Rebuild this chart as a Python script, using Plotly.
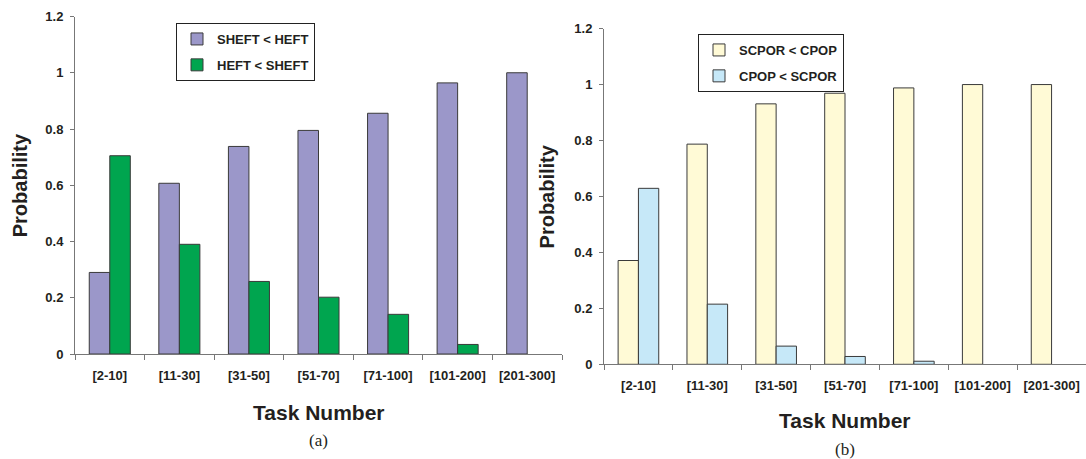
import plotly.graph_objects as go

categories = ["[2-10]", "[11-30]", "[31-50]", "[51-70]", "[71-100]", "[101-200]", "[201-300]"]
sheft_lt_heft = [0.29, 0.607, 0.738, 0.795, 0.856, 0.964, 1.0]
heft_lt_sheft = [0.705, 0.39, 0.258, 0.202, 0.141, 0.034, 0.0]
scpor_lt_cpop = [0.371, 0.787, 0.931, 0.969, 0.988, 1.0, 1.0]
cpop_lt_scpor = [0.629, 0.215, 0.065, 0.028, 0.011, 0.0, 0.0]
y_ticks = [0, 0.2, 0.4, 0.6, 0.8, 1, 1.2]
y_tick_labels = ["0", "0.2", "0.4", "0.6", "0.8", "1", "1.2"]

W, H = 1086, 459
FONT = "Liberation Sans, Arial, sans-serif"
TXT = "#231F20"
OUT = "#3a3a3a"

def px(x):
    return x / W

def py(y):
    return 1 - y / H

def edge(vals):
    return [1 if v > 0 else 0 for v in vals]

fig = go.Figure()
fig.add_trace(go.Bar(x=categories, y=sheft_lt_heft, name="SHEFT < HEFT",
                     marker=dict(color="#9B97C9", line=dict(color=OUT, width=edge(sheft_lt_heft))),
                     xaxis="x", yaxis="y", legend="legend", legendgroup="a1"))
fig.add_trace(go.Bar(x=categories, y=heft_lt_sheft, name="HEFT < SHEFT",
                     marker=dict(color="#00A54F", line=dict(color=OUT, width=edge(heft_lt_sheft))),
                     xaxis="x", yaxis="y", legend="legend", legendgroup="a2"))
fig.add_trace(go.Bar(x=categories, y=scpor_lt_cpop, name="SCPOR < CPOP",
                     marker=dict(color="#FFFAD6", line=dict(color=OUT, width=edge(scpor_lt_cpop))),
                     xaxis="x2", yaxis="y2", legend="legend2", legendgroup="b1"))
fig.add_trace(go.Bar(x=categories, y=cpop_lt_scpor, name="CPOP < SCPOR",
                     marker=dict(color="#C6E8F8", line=dict(color=OUT, width=edge(cpop_lt_scpor))),
                     xaxis="x2", yaxis="y2", legend="legend2", legendgroup="b2"))

tickfont = dict(family=FONT, size=13, color=TXT, weight="bold")
xax = dict(type="category", showline=True, linecolor="#777", linewidth=1, ticks="outside", ticklen=5, tickcolor="#777",
           tickson="boundaries", showgrid=False, zeroline=False, tickfont=tickfont,
           ticklabelstandoff=9, automargin=False)
yax = dict(range=[0, 1.2], tickvals=y_ticks, ticktext=y_tick_labels, showline=True, linecolor="#777", linewidth=1,
           ticks="outside", ticklen=4, tickcolor="#777", showgrid=False, zeroline=False,
           tickfont=tickfont, ticklabelstandoff=4, automargin=False)

L_x0, L_x1, L_top, L_bot = 75, 562, 16.5, 354
R_x0, R_x1, R_top, R_bot = 604, 1086, 28.6, 364.3

legfont = dict(family=FONT, size=13, color=TXT, weight="bold")
fig.update_layout(
    width=W, height=H, margin=dict(l=0, r=0, t=0, b=0, autoexpand=False),
    paper_bgcolor="white", plot_bgcolor="white",
    barmode="group", bargap=0.41, bargroupgap=0,
    xaxis=dict(xax, domain=[px(L_x0), px(L_x1)], anchor="y"),
    yaxis=dict(yax, domain=[py(L_bot), py(L_top)], anchor="x"),
    xaxis2=dict(xax, domain=[px(R_x0), px(R_x1)], anchor="y2"),
    yaxis2=dict(yax, domain=[py(R_bot), py(R_top)], anchor="x2"),
    legend=dict(x=px(176), y=py(23), xanchor="left", yanchor="top", bordercolor="#222", borderwidth=1,
                font=legfont, tracegroupgap=6, traceorder="grouped",
                itemwidth=30, bgcolor="white"),
    legend2=dict(x=px(698), y=py(34), xanchor="left", yanchor="top", bordercolor="#222", borderwidth=1,
                 font=legfont, tracegroupgap=6, traceorder="grouped",
                 itemwidth=30, bgcolor="white"),
    showlegend=True,
)

annots = [
    dict(text="<b>Probability</b>", x=px(20), y=py((L_top + L_bot) / 2), textangle=-90, font=dict(size=20)),
    dict(text="<b>Probability</b>", x=px(547), y=py((R_top + R_bot) / 2), textangle=-90, font=dict(size=20)),
    dict(text="<b>Task Number</b>", x=px((L_x0 + L_x1) / 2), y=py(412), font=dict(size=21)),
    dict(text="<b>Task Number</b>", x=px(845), y=py(420), font=dict(size=21)),
    dict(text="(a)", x=px((L_x0 + L_x1) / 2), y=py(440), font=dict(size=17, family="Liberation Serif, Times New Roman, serif")),
    dict(text="(b)", x=px(845), y=py(449), font=dict(size=17, family="Liberation Serif, Times New Roman, serif")),
]
for a in annots:
    f = dict(family=FONT, color=TXT)
    f.update(a.pop("font"))
    fig.add_annotation(xref="paper", yref="paper", showarrow=False, xanchor="center", yanchor="middle", font=f, **a)

fig.write_html("out.html", config={"displayModeBar": False},
               post_script="document.body.style.margin='0';document.body.style.overflow='hidden';")
